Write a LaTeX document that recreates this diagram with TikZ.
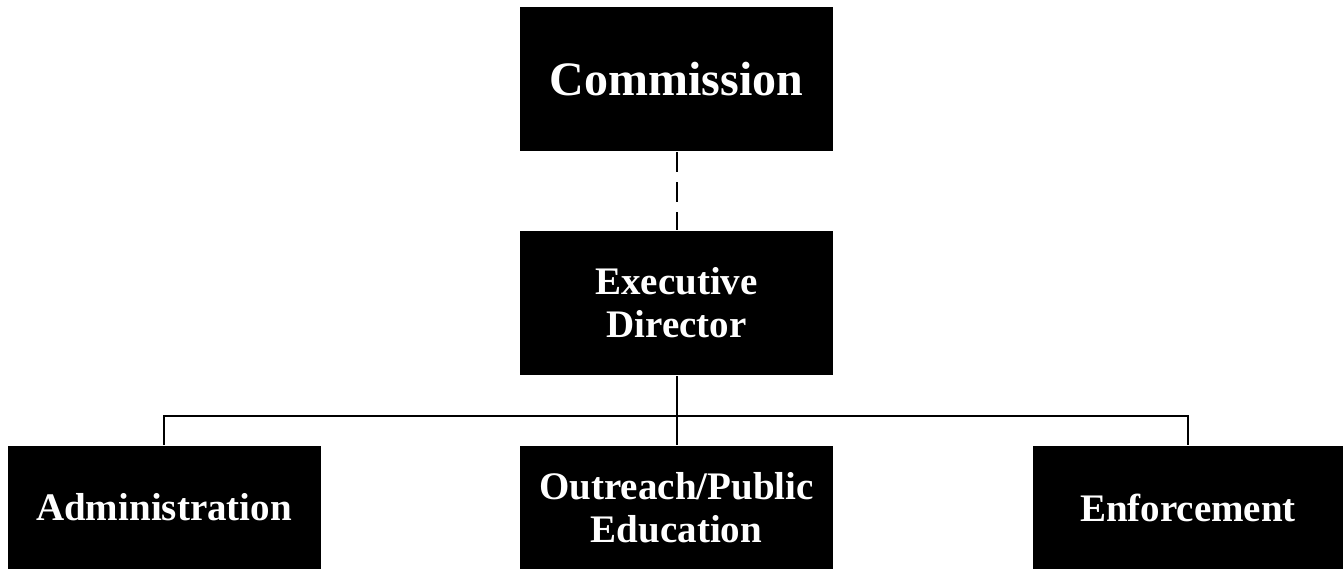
\documentclass[tikz,border=0pt]{standalone}
\usepackage{fontspec}
\setmainfont{Liberation Serif}
\begin{document}
\begin{tikzpicture}[x=0.5pt, y=-0.5pt, line width=1pt,
  box/.style={fill=black, text=white, align=center, inner sep=0pt,
    minimum width=156.5pt, minimum height=72pt,
    font=\fontsize{19.5}{21.5}\selectfont\bfseries}]
				\useasboundingbox (0,0) rectangle (1343,570);
				% top two levels
				\node[box, font=\fontsize{24}{28}\selectfont\bfseries] (Com) at (676.5,79) {Commission};
				\node[box] (Exe) at (676.5,303) {Executive\\Director};
				% departments
				\node[box, minimum height=61.5pt] (Adm) at (164,507.5) {Administration};
				\node[box, minimum height=61.5pt] (Out) at (676.5,507.5) {Outreach/Public\\Education};
				\node[box, minimum width=155pt, minimum height=61.5pt] (Enf) at (1188,507.5) {Enforcement};
				\coordinate (bus) at (676.5,416);
				\draw [dash pattern=on 10pt off 5pt] (Com)--(Exe);
				\draw (Exe)--(Out) (Adm.north) |- (bus) -| (Enf.north);
		\end{tikzpicture}
\end{document}
